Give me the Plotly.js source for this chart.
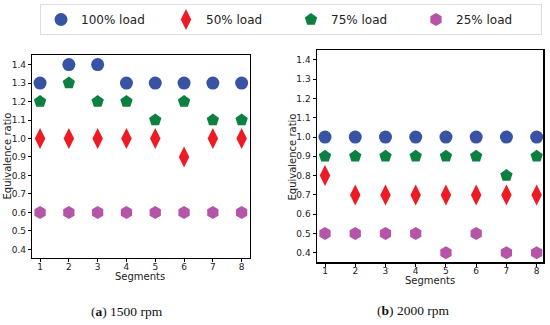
<!DOCTYPE html>
<html>
<head>
<meta charset="utf-8">
<script src="https://cdn.plot.ly/plotly-3.0.1.min.js"></script>
<style>
  body { margin: 0; background: #fff; }
  #chart { width: 550px; height: 325px; }
</style>
</head>
<body>
<div id="chart"></div>
<script>
// Segments along the x axis
const segments = [1, 2, 3, 4, 5, 6, 7, 8];
const loadNames = ['100% load', '50% load', '75% load', '25% load'];

// (a) 1500 rpm
const rpm1500_load100 = [1.3, 1.4, 1.4, 1.3, 1.3, 1.3, 1.3, 1.3];
const rpm1500_load50 = [1.0, 1.0, 1.0, 1.0, 1.0, 0.9, 1.0, 1.0];
const rpm1500_load75 = [1.2, 1.3, 1.2, 1.2, 1.1, 1.2, 1.1, 1.1];
const rpm1500_load25 = [0.6, 0.6, 0.6, 0.6, 0.6, 0.6, 0.6, 0.6];

// (b) 2000 rpm
const rpm2000_load100 = [1.0, 1.0, 1.0, 1.0, 1.0, 1.0, 1.0, 1.0];
const rpm2000_load50 = [0.8, 0.7, 0.7, 0.7, 0.7, 0.7, 0.7, 0.7];
const rpm2000_load75 = [0.9, 0.9, 0.9, 0.9, 0.9, 0.9, 0.8, 0.9];
const rpm2000_load25 = [0.5, 0.5, 0.5, 0.5, 0.4, 0.5, 0.4, 0.4];

const yTicks = [0.4, 0.5, 0.6, 0.7, 0.8, 0.9, 1.0, 1.1, 1.2, 1.3, 1.4];

// marker look per load
const styles = [
    { color: '#3953a4', symbol: 'circle', size: 13 },
    { color: '#ed1c24', symbol: 'diamond-tall', size: 15 },
    { color: '#0b8040', symbol: 'pentagon', size: 13 },
    { color: '#b455a8', symbol: 'hexagon', size: 13 }
];

// margins, and helpers to turn page pixels into paper coords
const M = { l: 30, r: 5, t: 45, b: 45 };
const W = 550 - M.l - M.r, H = 325 - M.t - M.b;
const px = (x) => (x - M.l) / W;
const py = (y) => (325 - M.b - y) / H;

function makeTraces(series, xa, ya, legend) {
    return series.map((ys, i) => ({
        x: segments,
        y: ys,
        xaxis: xa,
        yaxis: ya,
        type: 'scatter',
        mode: 'markers',
        name: loadNames[i],
        showlegend: legend,
        marker: {
            color: styles[i].color,
            symbol: styles[i].symbol,
            size: styles[i].size,
            line: { width: 0 }
        }
    }));
}

const traces = [
    ...makeTraces([rpm1500_load100, rpm1500_load50, rpm1500_load75, rpm1500_load25], 'x', 'y', true),
    ...makeTraces([rpm2000_load100, rpm2000_load50, rpm2000_load75, rpm2000_load25], 'x2', 'y2', false)
];

const tickFont = { family: 'DejaVu Sans', size: 9, color: '#222' };

function xAxis(domain, range, anchor) {
    return {
        domain: domain, range: range, anchor: anchor,
        tickvals: segments, ticks: 'outside', ticklen: 3, tickcolor: '#000',
        ticklabelstandoff: -3,
        showline: true, linecolor: '#000', linewidth: 1.2, mirror: true,
        showgrid: false, zeroline: false, tickfont: tickFont
    };
}
function yAxis(domain, range, anchor) {
    return {
        domain: domain, range: range, anchor: anchor,
        tickvals: yTicks, tickformat: '.1f', ticks: 'outside', ticklen: 3, tickcolor: '#000',
        showline: true, linecolor: '#000', linewidth: 1.2, mirror: true,
        showgrid: false, zeroline: false, tickfont: tickFont
    };
}

const titleFont = { family: 'DejaVu Sans', size: 10, color: '#222' };
const capFont = { family: 'Liberation Serif', size: 13.5, color: '#111' };

function note(text, x, y, font, angle) {
    return {
        text: text, xref: 'paper', yref: 'paper', x: px(x), y: py(y),
        showarrow: false, font: font, textangle: angle || 0,
        xanchor: 'center', yanchor: 'middle'
    };
}

const layout = {
    width: 550, height: 325,
    margin: M,
    paper_bgcolor: '#fff', plot_bgcolor: '#fff',
    xaxis: xAxis([px(32), px(250)], [0.72, 8.29], 'y'),
    yaxis: yAxis([py(258), py(54)], [0.353, 1.452], 'x'),
    xaxis2: xAxis([px(316.7), px(543.3)], [0.725, 8.22], 'y2'),
    yaxis2: yAxis([py(262.3), py(49.3)], [0.35, 1.45], 'x2'),
    showlegend: true,
    legend: {
        orientation: 'h',
        x: px(40), xanchor: 'left',
        y: py(4), yanchor: 'top',
        bordercolor: '#ddd', borderwidth: 1,
        font: { family: 'DejaVu Sans', size: 12, color: '#222' },
        entrywidth: 80, entrywidthmode: 'pixels',
        itemsizing: 'trace'
    },
    annotations: [
        note('Segments', 140, 276, titleFont),
        note('Segments', 430, 281, titleFont),
        note('Equivalence ratio', 8, 156, titleFont, -90),
        note('Equivalence ratio', 293, 157, titleFont, -90),
        note('(<b>a</b>) 1500 rpm', 126.7, 312, capFont),
        note('(<b>b</b>) 2000 rpm', 413.7, 311, capFont)
    ]
};

Plotly.newPlot('chart', traces, layout, { displayModeBar: false, staticPlot: true });
</script>
</body>
</html>
